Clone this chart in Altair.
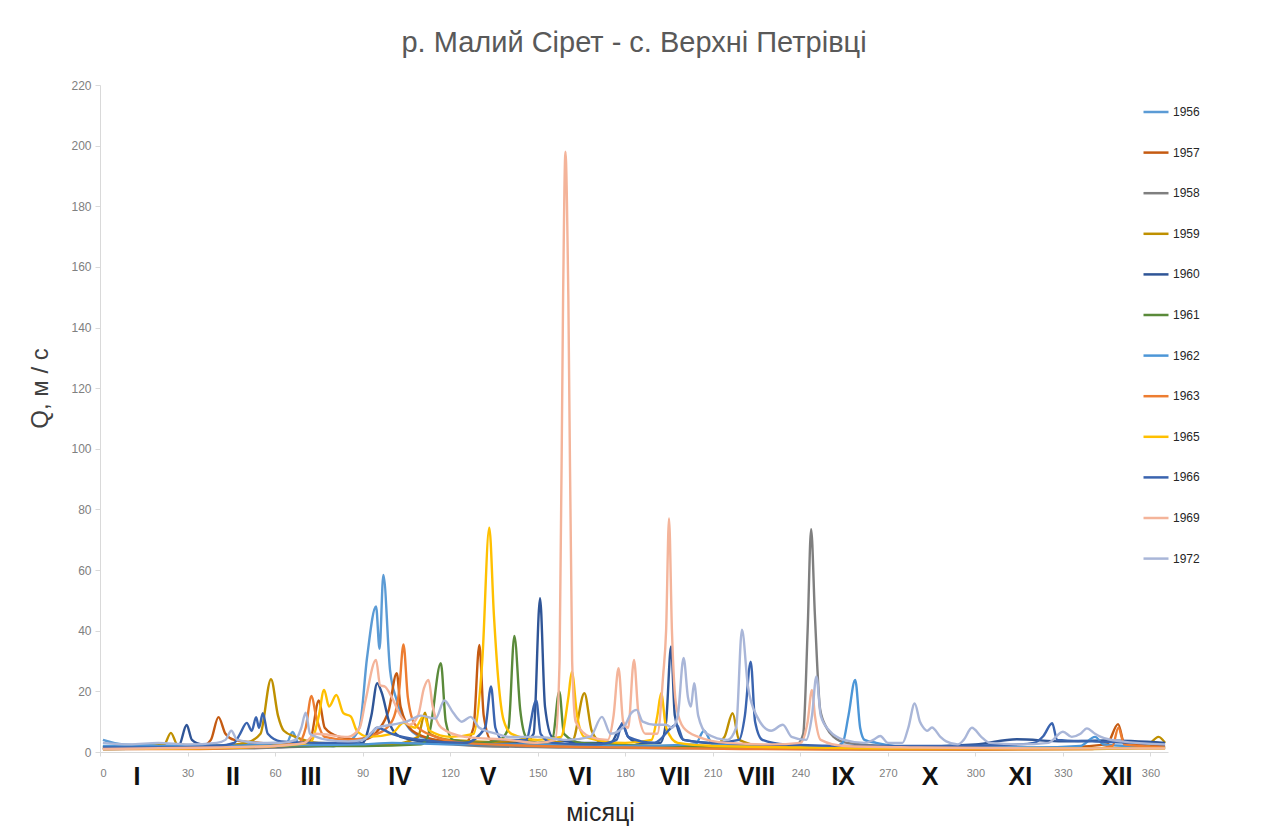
import altair as alt
import pandas as pd

TITLE = "р. Малий Сірет - с. Верхні Петрівці"
YEARS = ["1956", "1957", "1958", "1959", "1960", "1961", "1962", "1963", "1965", "1966", "1969", "1972"]
COLORS = ["#5B9BD5", "#C55A11", "#7F7F7F", "#BF9000", "#2F5597", "#5A8A3A",
          "#4C96D7", "#ED7D31", "#FFC000", "#3A64AF", "#F4B49A", "#A9B6D8"]

MONTHS = ["I", "II", "III", "IV", "V", "VI", "VII", "VIII", "IX", "X", "XI", "XII"]
MONTH_DAYS = [12.7, 45.6, 72.3, 102.8, 133, 164.6, 197, 225, 254.7, 284.5, 315.4, 348.6]
X_TICKS = [0, 30, 60, 90, 120, 150, 180, 210, 240, 270, 300, 330, 360]
Y_TICKS = [0, 20, 40, 60, 80, 100, 120, 140, 160, 180, 200, 220]

S1956 = [(1, 4.0), (8, 2.5), (20, 2.2), (35, 2.0), (50, 2.5), (60, 3), (64, 3), (66, 6.6), (68, 3), (75, 2.5),
         (80, 2.0), (86, 4), (89, 8.4), (91.5, 31), (94.6, 48), (95.8, 34), (97.1, 58.4), (99.4, 27),
         (101.7, 17), (105, 9), (110, 5), (120, 3.5), (135, 3), (150, 2.5), (165, 2), (180, 1.8), (200, 1.5),
         (230, 1.2), (260, 1), (300, 1), (340, 1.2), (365, 1.5)]
S1957 = [(1, 1.5), (20, 1.5), (35, 2), (38, 4), (40.6, 11.5), (43, 6), (46, 4), (55, 3), (65, 2.5), (72, 4),
         (75, 17), (77, 8), (82, 5), (90, 4), (96, 8), (99, 14), (101.7, 26), (103, 15), (107, 7), (115, 4),
         (125, 3), (128, 8), (130, 35.3), (131.5, 12), (134, 4), (145, 3), (170, 2), (200, 1.5), (240, 1.2),
         (280, 1.1), (320, 1.2), (345, 2.5), (348.9, 9.2), (351, 3), (365, 2)]
S1958 = [(1, 1), (50, 1.2), (90, 2.5), (110, 3), (130, 2), (160, 1.5), (200, 1.2), (235, 1.5), (239, 2.5),
         (241, 6), (242.5, 40), (243.7, 73.5), (245, 45), (246.8, 14), (249, 8), (251.4, 5), (256, 3),
         (270, 2), (300, 1.5), (340, 1.2), (365, 1.2)]
S1959 = [(1, 1.8), (15, 1.8), (22, 2.5), (24.3, 6.3), (26.5, 2.5), (40, 2), (50, 3), (55, 6), (58.6, 24),
         (61, 12), (63, 7), (67, 5), (75, 3), (100, 2.5), (109, 5), (111.4, 13), (113, 6), (120, 4), (150, 3),
         (162, 4), (166, 19.4), (168.5, 7), (172, 3), (190, 2), (210, 2), (214, 5), (216.8, 12.8), (219, 4),
         (230, 1.5), (260, 1), (300, 0.8), (340, 1), (358, 1.5), (362.8, 5), (365, 3)]
S1960 = [(1, 1), (20, 1.2), (27, 2), (29.7, 8.9), (31.5, 4), (35, 2.5), (45, 2), (60, 2), (80, 2), (90, 3),
         (93, 12), (95, 22.7), (96.5, 19.7), (99.4, 9), (103, 5), (115, 3), (130, 2.5), (145, 3), (148.6, 6),
         (150.8, 50.7), (152.5, 15), (155, 5), (165, 3), (175, 3), (179, 9), (181, 5), (185, 3), (192, 3),
         (194, 10), (195.7, 34.8), (197, 12), (200, 4), (215, 2.5), (240, 2), (270, 1.5), (300, 2.5),
         (314.2, 4.2), (330, 3.5), (345, 3.8), (365, 3)]
S1961 = [(1, 1.5), (30, 1.5), (60, 2), (90, 2), (110, 2.5), (113, 7), (116.8, 29.3), (118.5, 10), (121, 4),
         (130, 3), (137, 4), (140, 8), (142, 38.3), (144, 14), (146, 5), (150, 3), (155, 4), (157.4, 20),
         (159, 6), (165, 3), (190, 2), (230, 1.5), (280, 1.2), (330, 1.2), (365, 1.5)]
S1962 = [(1, 2), (30, 2), (60, 2.2), (90, 2.5), (100, 3), (120, 2.5), (150, 2.5), (180, 2), (204, 2.5),
         (207, 7), (210, 2.5), (240, 1.5), (252, 2), (254.5, 3), (256.5, 12), (258.8, 23.8), (260.5, 8),
         (262, 4), (266, 3), (280, 1.5), (320, 1.5), (336, 2), (341, 5), (344, 2.5), (365, 1.5)]
S1963 = [(1, 1), (30, 1), (50, 1.5), (60, 2), (68, 3), (70.5, 8), (72.5, 18.5), (74, 12), (77, 5), (85, 4),
         (95, 6), (100, 10), (102.5, 20), (104, 35.5), (105.5, 18), (108, 9), (115, 5), (125, 3), (150, 2),
         (180, 1.5), (220, 1), (260, 0.8), (300, 0.8), (340, 1), (347, 2), (349, 8), (351, 2.5), (365, 1.5)]
S1965 = [(1, 1), (30, 1.2), (60, 2), (72, 3), (75, 12), (76.8, 20.5), (78.5, 15), (81, 18.8), (83.4, 12.8),
         (86, 11.7), (88, 7), (92, 5), (100, 6), (104, 9.6), (108, 8), (111, 12), (113, 7), (120, 5), (128, 6),
         (131, 30), (133.4, 74), (135, 45), (136.5, 23.8), (138.3, 10.6), (141, 6), (150, 4), (158, 5),
         (160.5, 18), (161.7, 26.5), (163.5, 12), (166, 5), (180, 3), (189, 4), (191, 12), (192.3, 19.4),
         (194, 8), (198, 3), (210, 2), (240, 1.5), (270, 1.2), (310, 1.2), (365, 1.2)]
S1966 = [(1, 1.5), (20, 1.5), (40, 2), (46, 3), (48, 6), (50.3, 9.6), (52, 7), (53.5, 11.5), (54.5, 8),
         (55.8, 12.8), (57.5, 6), (62, 3.5), (75, 3), (85, 3), (92, 5), (95, 8), (100, 6), (110, 4), (125, 3),
         (132, 8), (134, 21.6), (135.5, 8), (138, 4), (146, 4), (149.5, 17), (151, 6), (155, 3), (170, 2.5),
         (177, 4), (179, 9.6), (181, 5), (190, 3), (197.6, 9), (200, 4), (210, 3), (219, 4), (221, 12),
         (223, 29.8), (224.5, 10), (227, 4), (235, 2.5), (260, 2), (290, 2), (315, 2.5), (320, 3),
         (323.3, 5.3), (326.3, 9.5), (328, 4), (340, 3.5), (355, 3), (365, 2.5)]
S1969 = [(1, 1), (40, 1.5), (60, 2), (70, 3), (74, 6), (85, 5), (89, 8), (91, 17), (94.6, 30.4), (96, 22),
         (97.7, 21.5), (100, 18), (103, 12), (106, 9), (109, 12), (111, 21), (112.6, 23.8), (114, 15), (117, 8),
         (125, 5), (140, 4), (150, 3), (156, 4), (157.5, 30), (158.7, 150), (159.5, 198), (160.5, 150),
         (161.8, 30), (163, 10), (168, 5), (174, 4), (176, 12), (177.7, 27.6), (179.3, 10), (181, 8),
         (183, 30.4), (184.5, 13), (187, 6), (191, 6), (193, 25.4), (194, 40), (195, 77), (196, 40),
         (197.5, 15), (200, 8), (205, 5), (215, 3), (230, 2.5), (240, 3), (242.5, 10), (244, 20.5), (245, 12),
         (247, 4), (255, 2), (280, 1.5), (320, 1.2), (365, 1.2)]
S1972 = [(1, 3), (10, 2.5), (20, 3), (30, 2.5), (40, 3), (43, 4), (45, 7), (47, 4), (55, 3), (62, 3), (67, 4),
         (69, 8), (70.5, 13), (72, 6), (78, 4), (85, 3.5), (90, 4), (95, 8), (100, 9), (105, 10), (110, 12),
         (115, 11), (118, 17), (121, 13), (124, 10), (127, 11.6), (130, 8), (136, 6), (140, 5), (145, 5),
         (150, 5), (160, 4), (168, 5), (172, 11.6), (175, 6), (180, 9), (182, 12.8), (183.9, 13.9), (186, 10),
         (190, 9), (194, 9), (196, 8), (198, 12), (200, 31), (201.5, 18), (202.5, 15), (203.6, 22.7), (205, 12),
         (208, 6), (215, 4), (218, 8), (220, 40.3), (222, 22), (225, 12), (230, 7), (234, 9), (237, 5),
         (242, 4), (244, 12), (245.5, 24.9), (247, 12), (250, 7), (255, 4), (262, 3), (265, 4), (267.4, 5.3),
         (270, 3), (275, 3), (277, 8), (279.2, 16), (281, 10), (282, 8.3), (283.5, 7), (285.1, 8.1), (288, 5),
         (290, 3.5), (294, 2.5), (296, 4), (298.8, 8), (302, 5), (305, 3), (315, 2.5), (325, 3), (330, 6.7),
         (333, 5), (336, 6), (338.2, 7.8), (341, 6), (343, 5), (350, 3.5), (365, 2.5)]

SERIES = [S1956, S1957, S1958, S1959, S1960, S1961, S1962, S1963, S1965, S1966, S1969, S1972]

rows = []
for i, (yr, pts) in enumerate(zip(YEARS, SERIES)):
    for d, q in pts:
        rows.append({"year": yr, "day": d, "q": q, "order": i})
df = pd.DataFrame(rows)
months_df = pd.DataFrame({"m": MONTHS, "day": MONTH_DAYS})

FONT = "Liberation Sans"
W, H = 1068, 667

x_scale = alt.Scale(domain=[0, 366], nice=False)

lines = alt.Chart(df).mark_line(strokeWidth=2.4, interpolate="monotone").encode(
    x=alt.X("day:Q", scale=x_scale,
            axis=alt.Axis(values=X_TICKS, title="місяці", grid=False, labelColor="#808080",
                          labelFontSize=11, labelFont=FONT, labelPadding=11, tickSize=4,
                          tickColor="#D9D9D9", domainColor="#D9D9D9",
                          titleFontSize=25, titleFont=FONT, titleFontWeight="normal",
                          titleColor="#262626", titleX=500, titleY=60, titleBaseline="middle",
                          titleAlign="center")),
    y=alt.Y("q:Q", scale=alt.Scale(domain=[0, 220], nice=False),
            axis=alt.Axis(values=Y_TICKS, title="Q, м / с", grid=False, labelColor="#808080",
                          labelFontSize=12, labelFont=FONT, labelPadding=4, tickSize=5,
                          tickColor="#D9D9D9", domainColor="#D9D9D9",
                          titleFontSize=24, titleFont=FONT, titleFontWeight="normal",
                          titleColor="#404040", titleX=-60, titleY=303, titleBaseline="middle",
                          titleAlign="center", titleAngle=-90)),
    color=alt.Color("year:N", scale=alt.Scale(domain=YEARS, range=COLORS),
                    legend=alt.Legend(title=None, orient="none", legendX=1042, legendY=13,
                                      symbolType="stroke", symbolSize=625, symbolStrokeWidth=2.5,
                                      labelFontSize=12, labelFont=FONT, labelColor="#262626",
                                      rowPadding=20.6, labelOffset=3, padding=0)),
    order=alt.Order("order:Q"),
)

months = alt.Chart(months_df).mark_text(fontSize=25, fontWeight="bold", font=FONT, color="#111111",
                                        baseline="middle", align="center").encode(
    x=alt.X("day:Q", scale=x_scale),
    y=alt.value(H + 25),
    text="m:N",
)

chart = alt.layer(lines, months).properties(
    width=W, height=H,
    title=alt.TitleParams(TITLE, fontSize=29, font=FONT, color="#595959", fontWeight="normal",
                          anchor="middle", offset=21),
    autosize=alt.AutoSizeParams(type="none"),
    padding={"left": 92, "top": 77, "right": 100, "bottom": 80},
).configure(background="white").configure_view(stroke=None)

chart.save("out.html", embed_options={"renderer": "svg", "actions": False})
